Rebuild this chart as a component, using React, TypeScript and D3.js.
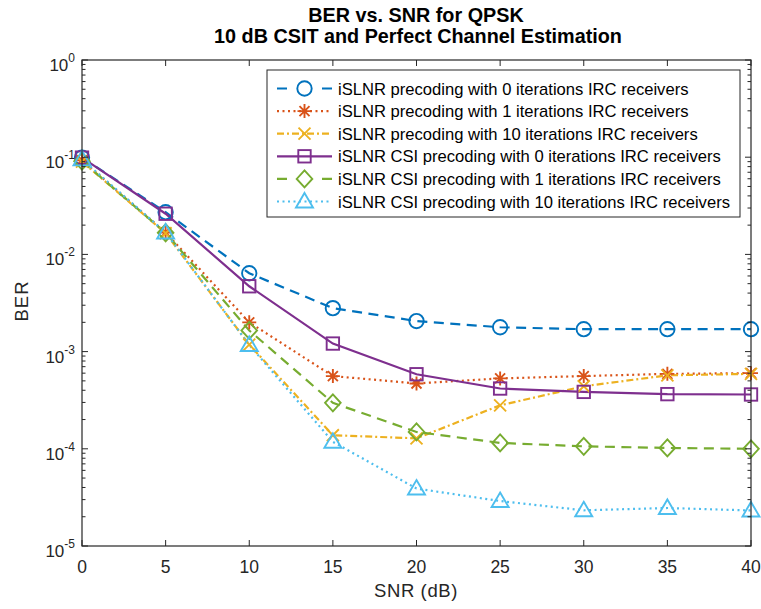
import React from "react";
import * as d3 from "d3";

const snr = [0, 5, 10, 15, 20, 25, 30, 35, 40];
const berNoCsi0 = [0.099, 0.0272, 0.0064, 0.0028, 0.00206, 0.00178, 0.0017, 0.0017, 0.0017];
const berNoCsi1 = [0.093, 0.0168, 0.0020, 0.00056, 0.00047, 0.00053, 0.00056, 0.00059, 0.0006];
const berNoCsi10 = [0.09, 0.0165, 0.00118, 0.000138, 0.000128, 0.00028, 0.00044, 0.00057, 0.00059];
const berCsi0 = [0.099, 0.0262, 0.0047, 0.00121, 0.000585, 0.000417, 0.000385, 0.000365, 0.000362];
const berCsi1 = [0.091, 0.0167, 0.00165, 0.000297, 0.000149, 0.000115, 0.000106, 0.000102, 0.0001];
const berCsi10 = [0.095, 0.0168, 0.00117, 0.000118, 0.000039, 0.000029, 0.0000233, 0.0000246, 0.0000232];

const seriesNames = [
  "iSLNR precoding with 0 iterations IRC receivers",
  "iSLNR precoding with 1 iterations IRC receivers",
  "iSLNR precoding with 10 iterations IRC receivers",
  "iSLNR CSI precoding with 0 iterations IRC receivers",
  "iSLNR CSI precoding with 1 iterations IRC receivers",
  "iSLNR CSI precoding with 10 iterations IRC receivers",
];
const xTicks = [0, 5, 10, 15, 20, 25, 30, 35, 40];
const yTickExps = [-5, -4, -3, -2, -1, 0];

const seriesData = [berNoCsi0, berNoCsi1, berNoCsi10, berCsi0, berCsi1, berCsi10];
const colors = ["#0072BD", "#D95319", "#EDB120", "#7E2F8E", "#77AC30", "#4DBEEE"];
const dashes = ["10,6.5", "2,3.5", "7,3,2,3", "none", "10,6.5", "2,3.5"];
const legendDashes = ["10,35,10", "2,3.5", "7,3,2,3", "none", "10,35,10", "2,3.5"];
const markers = ["circle", "star", "x", "square", "diamond", "triangle"];

const W = 761, H = 609;
const L = 82, R = 751, T = 60, B = 546;
const FONT = "'Liberation Sans', Arial, Helvetica, sans-serif";
const AX = "#262626";

function Marker({ type, x, y, color }: { type: string; x: number; y: number; color: string }) {
  const sw = 1.9;
  const common = { fill: "none", stroke: color, strokeWidth: sw } as any;
  switch (type) {
    case "circle":
      return <circle cx={x} cy={y} r={7.2} {...common} />;
    case "square":
      return <rect x={x - 6.2} y={y - 6.2} width={12.4} height={12.4} {...common} />;
    case "diamond":
      return <path d={`M${x},${y - 8.5}L${x + 7.8},${y}L${x},${y + 8.5}L${x - 7.8},${y}Z`} {...common} />;
    case "triangle":
      return <path d={`M${x},${y - 8.5}L${x + 8.5},${y + 6}L${x - 8.5},${y + 6}Z`} {...common} />;
    case "x":
      return <path d={`M${x - 6},${y - 6}L${x + 6},${y + 6}M${x - 6},${y + 6}L${x + 6},${y - 6}`} {...common} />;
    case "star":
      return (
        <path
          d={`M${x - 7},${y}L${x + 7},${y}M${x},${y - 7}L${x},${y + 7}M${x - 5},${y - 5}L${x + 5},${y + 5}M${x - 5},${y + 5}L${x + 5},${y - 5}`}
          {...common}
        />
      );
    default:
      return null;
  }
}

export default function App() {
  const x = d3.scaleLinear().domain([0, 40]).range([L, R]);
  const y = d3.scaleLog().domain([1e-5, 1]).range([B, T]);

  const minorTicks: number[] = [];
  for (let e = -5; e < 0; e++) {
    for (let m = 2; m <= 9; m++) minorTicks.push(m * Math.pow(10, e));
  }

  const line = d3
    .line<[number, number]>()
    .x((d) => x(d[0]))
    .y((d) => y(d[1]));

  const legX = 267, legY = 70, legW = 473, legH = 147;
  const rowY0 = 88.5, rowStep = 22.6;

  return (
    <svg width={W} height={H} style={{ position: "absolute", left: 0, top: 0, background: "#fff" }} fontFamily={FONT}>
      <rect x={0} y={0} width={W} height={H} fill="#fff" />
      {/* title */}
      <text x={416} y={22} textAnchor="middle" fontSize={19.8} fontWeight="bold" fill="#000">
        BER vs. SNR for QPSK
      </text>
      <text x={418} y={43} textAnchor="middle" fontSize={19.8} fontWeight="bold" fill="#000">
        10 dB CSIT and Perfect Channel Estimation
      </text>

      {/* series lines */}
      {seriesData.map((vals, i) => (
        <path
          key={"l" + i}
          d={line(snr.map((s, j) => [s, vals[j]] as [number, number])) || ""}
          fill="none"
          stroke={colors[i]}
          strokeWidth={2.2}
          strokeDasharray={dashes[i]}
        />
      ))}
      {seriesData.map((vals, i) =>
        snr.map((s, j) => (
          <Marker key={`m${i}-${j}`} type={markers[i]} x={x(s)} y={y(vals[j])} color={colors[i]} />
        ))
      )}

      {/* axes box */}
      <rect x={L} y={T} width={R - L} height={B - T} fill="none" stroke={AX} strokeWidth={1.2} />
      {/* x ticks */}
      {xTicks.map((t) => (
        <g key={"xt" + t}>
          <line x1={x(t)} x2={x(t)} y1={B} y2={B - 6} stroke={AX} />
          <line x1={x(t)} x2={x(t)} y1={T} y2={T + 6} stroke={AX} />
          <text x={x(t)} y={573} textAnchor="middle" fontSize={17.5} fill={AX}>
            {t}
          </text>
        </g>
      ))}
      {/* y ticks */}
      {yTickExps.map((e) => (
        <g key={"yt" + e}>
          <line x1={L} x2={L + 6} y1={y(Math.pow(10, e))} y2={y(Math.pow(10, e))} stroke={AX} />
          <line x1={R} x2={R - 6} y1={y(Math.pow(10, e))} y2={y(Math.pow(10, e))} stroke={AX} />
          <text x={75} y={y(Math.pow(10, e)) + 11} textAnchor="end" fontSize={17} fill={AX}>
            10
            <tspan fontSize={12} dy={-9}>
              {String(e)}
            </tspan>
          </text>
        </g>
      ))}
      {minorTicks.map((v, i) => (
        <g key={"mt" + i}>
          <line x1={L} x2={L + 3.5} y1={y(v)} y2={y(v)} stroke={AX} />
          <line x1={R} x2={R - 3.5} y1={y(v)} y2={y(v)} stroke={AX} />
        </g>
      ))}

      {/* axis labels */}
      <text x={416} y={597} textAnchor="middle" fontSize={18.5} letterSpacing={0.6} fill={AX}>
        SNR (dB)
      </text>
      <text transform={`translate(28,301) rotate(-90)`} textAnchor="middle" fontSize={18.5} letterSpacing={1} fill={AX}>
        BER
      </text>

      {/* legend */}
      <rect x={legX} y={legY} width={legW} height={legH} fill="#fff" stroke={AX} strokeWidth={1} />
      {seriesNames.map((name, i) => {
        const ry = rowY0 + i * rowStep;
        return (
          <g key={"lg" + i}>
            <line
              x1={277}
              x2={332}
              y1={ry}
              y2={ry}
              stroke={colors[i]}
              strokeWidth={2.2}
              strokeDasharray={legendDashes[i]}
            />
            <Marker type={markers[i]} x={304.5} y={ry} color={colors[i]} />
            <text x={338} y={ry + 6} fontSize={16.6} fill="#000">
              {name}
            </text>
          </g>
        );
      })}
    </svg>
  );
}
